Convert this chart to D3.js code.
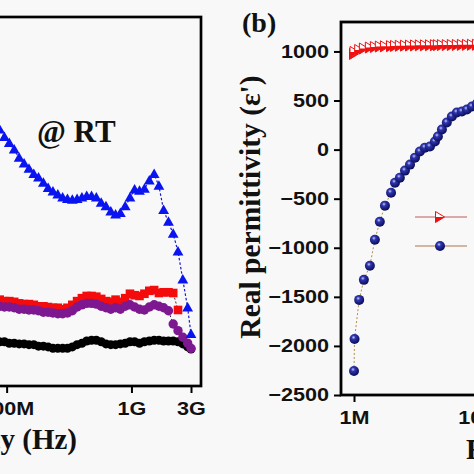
<!DOCTYPE html>
<html><head><meta charset="utf-8">
<script src="https://cdn.jsdelivr.net/npm/d3@7"></script>
<style>
html,body{margin:0;padding:0;background:#f8f8f8;}
svg{display:block;}
.serif{font-family:"Liberation Serif","Times New Roman",serif;font-weight:bold;fill:#111;}
.tick text{font-family:"Liberation Sans",Arial,sans-serif;font-weight:bold;font-size:18px;fill:#111;}
</style>
</head><body>
<svg id="c" width="474" height="474"></svg>
<script>
// ---------------- data ----------------
// Panel (a): frequency (MHz) and four series (arbitrary permittivity units)
const freqA = [80, 88, 96, 105, 115, 126, 138, 151, 165, 180, 197, 215, 235, 257, 281, 307, 336, 367, 401, 438, 479, 523, 572, 625, 683, 746, 815, 891, 973, 1060, 1160, 1270, 1390, 1520, 1660, 1810, 1980, 2160, 2360, 2580, 2820, 3000];
const blueA = [35.5,34.7,33.7,32.9,32.0,30.9,30.1,29.4,28.7,28.2,27.5,26.8,26.3,25.9,25.5,25.3,25.2,25.3,25.5,25.7,25.7,25.5,24.8,24.3,23.6,23.2,23.4,24.3,25.5,26.6,26.4,26.7,27.8,28.7,27.1,23.8,22.2,20.6,18.2,14.4,10.6,7.0];
const redA = [11.8,11.7,11.5,11.5,11.4,11.2,11.1,11.1,11.0,10.8,10.8,10.7,10.6,10.6,10.4,10.6,11.0,11.5,11.9,12.2,12.2,12.1,11.8,11.5,11.4,11.7,11.4,11.9,12.5,12.3,12.2,12.5,12.9,13.0,12.6,12.7,12.7,12.6,10.3,null,null,null];
const purpleA = [10.8,10.8,10.7,10.7,10.6,10.4,10.4,10.3,10.3,10.2,10.0,10.0,9.9,9.8,9.8,9.9,10.2,10.7,11.0,11.2,11.2,11.1,10.8,10.6,10.4,10.6,10.4,10.8,11.0,10.7,10.4,10.3,10.7,11.0,10.8,10.6,10.2,8.4,7.5,6.6,5.8,5.1];
const blackA = [6.1,6.0,6.0,5.8,5.8,5.7,5.7,5.6,5.6,5.4,5.4,5.3,5.1,5.1,5.1,5.1,5.3,5.6,5.8,6.1,6.2,6.2,6.0,5.7,5.6,5.6,5.7,5.8,6.0,6.0,5.8,6.0,6.1,6.2,6.2,6.1,6.1,6.1,6.0,5.7,5.3,5.0];
const tickValsA = [1e8, 1e9, 3e9];
const tickLabelsA = ["100M", "1G", "3G"];

// Panel (b): frequency (MHz), real permittivity
const freqB = [1.0, 1.01, 1.10, 1.20, 1.34, 1.47, 1.61, 1.77, 1.98, 2.13, 2.33, 2.56, 2.81, 3.08, 3.37, 3.70, 4.06, 4.45, 4.70, 5.06, 5.54, 6.08, 6.67, 7.32, 8.03, 8.81, 9.66, 10.6];
const sphereB = [-2255,-1929,-1531,-1327,-1184,-918,-735,-571,-439,-337,-286,-214,-153,-82,-20,20,31,82,133,204,276,337,378,388,408,439,470,490];
const triB = [975,995,1015,1030,1040,1045,1050,1052,1054,1056,1058,1059,1060,1061,1062,1062,1063,1064,1064,1065,1065,1066,1066,1067,1067,1068,1068,1068];
const tickValsBx = [1e6, 1e7];
const tickLabelsBx = ["1M", "10M"];
const tickValsBy = [-2500, -2000, -1500, -1000, -500, 0, 500, 1000];

// ---------------- drawing ----------------
const svg = d3.select("#c");
const defs = svg.append("defs");
const g = defs.append("radialGradient").attr("id","sph").attr("cx","40%").attr("cy","35%").attr("r","65%");
g.append("stop").attr("offset","0%").attr("stop-color","#c8ccf4");
g.append("stop").attr("offset","30%").attr("stop-color","#2f35b0");
g.append("stop").attr("offset","100%").attr("stop-color","#0a0c55");

// scales
const xA = d3.scaleLog().domain([1e6, 3e9]).range([-243, 191]);
const yA = d3.scaleLinear().domain([0, 50]).range([386, 17]);
const xB = d3.scaleLog().domain([1e6, 3e9]).range([354, 788]);
const yB = d3.scaleLinear().domain([-2500, 1300]).range([395, 22]);

// frames
svg.append("rect").attr("x",-254).attr("y",17).attr("width",455).attr("height",369)
  .attr("fill","none").attr("stroke","#000").attr("stroke-width",2.7);
svg.append("rect").attr("x",341).attr("y",22).attr("width",455).attr("height",373)
  .attr("fill","none").attr("stroke","#000").attr("stroke-width",2.8);

// panel (a) axis
const axA = svg.append("g").attr("transform","translate(0,386)")
  .call(d3.axisBottom(xA).tickValues(tickValsA).tickFormat((d,i)=>tickLabelsA[i]).tickSize(7).tickPadding(9));
axA.select(".domain").remove();
axA.selectAll("line").attr("stroke-width",2);
axA.selectAll("text").attr("transform","scale(1.2,1)");

// panel (b) axes
const axBx = svg.append("g").attr("transform","translate(0,395)")
  .call(d3.axisBottom(xB).tickValues(tickValsBx).tickFormat((d,i)=>tickLabelsBx[i]).tickSize(7).tickPadding(9));
axBx.select(".domain").remove();
axBx.selectAll("line").attr("stroke-width",2);
axBx.selectAll("text").attr("transform","scale(1.2,1)");

const axBy = svg.append("g").attr("transform","translate(341,0)")
  .call(d3.axisLeft(yB).tickValues(tickValsBy).tickFormat(d3.format("d")).tickSize(7).tickPadding(3));
axBy.select(".domain").remove();
axBy.selectAll("line").attr("stroke-width",2);
axBy.selectAll("text").attr("transform","scale(1.2,1)");

// panel (a) series
function seriesA(vals){ return freqA.map((f,i)=>({f:f*1e6, v:vals[i]})).filter(d=>d.v!=null); }
const lineA = d3.line().x(d=>xA(d.f)).y(d=>yA(d.v));

// black
const dBlack = seriesA(blackA);
svg.append("path").attr("d",lineA(dBlack)).attr("fill","none").attr("stroke","#000").attr("stroke-width",1).attr("stroke-dasharray","2,2");
svg.append("g").selectAll("circle").data(dBlack).join("circle")
  .attr("cx",d=>xA(d.f)).attr("cy",d=>yA(d.v)).attr("r",4.5).attr("fill","#000");

// red squares
const dRed = seriesA(redA);
svg.append("path").attr("d",lineA(dRed)).attr("fill","none").attr("stroke","#552020").attr("stroke-width",1).attr("stroke-dasharray","2,2");
svg.append("g").selectAll("rect").data(dRed).join("rect")
  .attr("x",d=>xA(d.f)-4.3).attr("y",d=>yA(d.v)-4.3).attr("width",8.6).attr("height",8.6).attr("fill","#f40c0c");

// purple circles
const dPur = seriesA(purpleA);
svg.append("path").attr("d",lineA(dPur)).attr("fill","none").attr("stroke","#402040").attr("stroke-width",1).attr("stroke-dasharray","2,2");
svg.append("g").selectAll("circle").data(dPur).join("circle")
  .attr("cx",d=>xA(d.f)).attr("cy",d=>yA(d.v)).attr("r",4.7).attr("fill","#7d1890");

// blue triangles
const dBlue = seriesA(blueA);
svg.append("path").attr("d",lineA(dBlue)).attr("fill","none").attr("stroke","#1a1ad0").attr("stroke-width",1.2).attr("stroke-dasharray","2.5,2");
svg.append("g").selectAll("path").data(dBlue).join("path")
  .attr("transform",d=>`translate(${xA(d.f)},${yA(d.v)})`)
  .attr("d","M0,-5.8L5.4,3.7L-5.4,3.7Z").attr("fill","#0a14f0");

// panel (b) series
const dTri = freqB.map((f,i)=>({f:f*1e6, v:triB[i]}));
const dSph = freqB.map((f,i)=>({f:f*1e6, v:sphereB[i]}));
const lineB = d3.line().x(d=>xB(d.f)).y(d=>yB(d.v));

svg.append("path").attr("d",lineB(dTri)).attr("fill","none").attr("stroke","#e04040").attr("stroke-width",1);
const triG = svg.append("g").selectAll("g").data(dTri).join("g")
  .attr("transform",d=>`translate(${xB(d.f)},${yB(d.v)})`);
triG.append("path").attr("d","M-4.5,-5.5L4.5,0L-4.5,5.5Z").attr("fill","#fff").attr("stroke","#f01010").attr("stroke-width",1);
triG.append("path").attr("d","M-4.5,0L4.5,0L-4.5,5.5Z").attr("fill","#f01010");

svg.append("path").attr("d",lineB(dSph)).attr("fill","none").attr("stroke","#b09050").attr("stroke-width",1).attr("stroke-dasharray","2,2");
svg.append("g").selectAll("circle").data(dSph).join("circle")
  .attr("cx",d=>xB(d.f)).attr("cy",d=>yB(d.v)).attr("r",5).attr("fill","url(#sph)");

// legend (b)
svg.append("line").attr("x1",415).attr("x2",467).attr("y1",217).attr("y2",217).attr("stroke","#d09090").attr("stroke-width",1.5);
const lt = svg.append("g").attr("transform","translate(440,217)");
lt.append("path").attr("d","M-4.5,-5.5L4.5,0L-4.5,5.5Z").attr("fill","#fff").attr("stroke","#f01010").attr("stroke-width",1);
lt.append("path").attr("d","M-4.5,0L4.5,0L-4.5,5.5Z").attr("fill","#f01010");
svg.append("line").attr("x1",415).attr("x2",467).attr("y1",246).attr("y2",246).attr("stroke","#c8a080").attr("stroke-width",1.5);
svg.append("circle").attr("cx",440).attr("cy",246).attr("r",5).attr("fill","url(#sph)");

// texts
svg.append("text").attr("class","serif").attr("x",37).attr("y",142).attr("font-size",31).text("@ RT");
svg.append("text").attr("class","serif").attr("x",77).attr("y",449).attr("font-size",29).attr("text-anchor","end").text("Frequency (Hz)");
svg.append("text").attr("class","serif").attr("x",466).attr("y",459).attr("font-size",29).text("Frequency (Hz)");
svg.append("text").attr("class","serif").attr("x",242).attr("y",32).attr("font-size",28).text("(b)");
svg.append("text").attr("class","serif").attr("font-size",29.5).attr("text-anchor","middle")
  .attr("transform","translate(260,207) rotate(-90)").text("Real permittivity (ε')");
</script>
</body></html>
